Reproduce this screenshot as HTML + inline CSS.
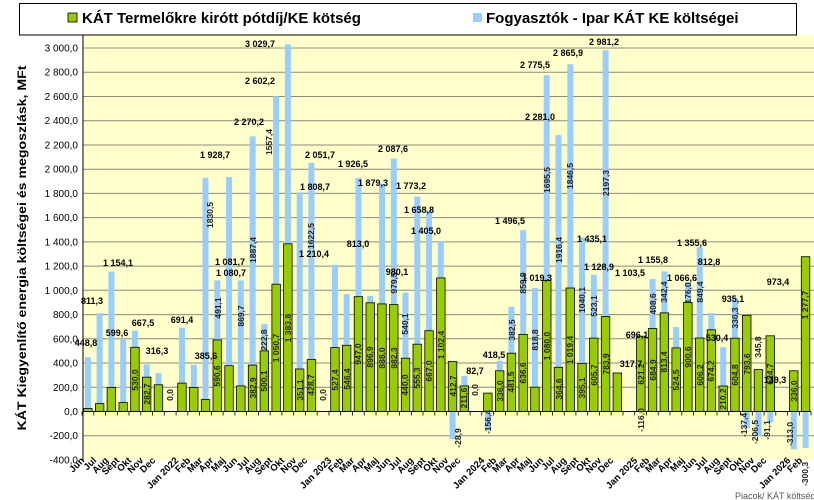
<!DOCTYPE html>
<html><head><meta charset="utf-8"><style>
html,body{margin:0;padding:0;background:#fff;}
svg{display:block;font-family:"Liberation Sans",sans-serif;}
.t{font-size:9px;font-weight:bold;text-anchor:middle;fill:#000;}
.r{font-size:8.5px;font-weight:bold;text-anchor:middle;fill:#222;}
.yl{font-size:10px;text-anchor:end;fill:#000;}
.xl{font-size:9.5px;font-weight:bold;text-anchor:end;fill:#000;}
.g{fill:#99CC00;stroke:#000;stroke-width:0.8;}
.b{fill:#99CCFF;}
</style></head><body>
<svg width="814" height="500" viewBox="0 0 814 500">
<rect x="83" y="35" width="731" height="425" fill="#FFFFCC"/>
<g stroke="#8c8c7a" stroke-width="1">
<line x1="83" x2="814" y1="48" y2="48"/><line x1="83" x2="814" y1="72.2" y2="72.2"/><line x1="83" x2="814" y1="96.5" y2="96.5"/><line x1="83" x2="814" y1="120.7" y2="120.7"/><line x1="83" x2="814" y1="145" y2="145"/><line x1="83" x2="814" y1="169.2" y2="169.2"/><line x1="83" x2="814" y1="193.4" y2="193.4"/><line x1="83" x2="814" y1="217.6" y2="217.6"/><line x1="83" x2="814" y1="241.9" y2="241.9"/><line x1="83" x2="814" y1="266.1" y2="266.1"/><line x1="83" x2="814" y1="290.3" y2="290.3"/><line x1="83" x2="814" y1="314.6" y2="314.6"/><line x1="83" x2="814" y1="338.8" y2="338.8"/><line x1="83" x2="814" y1="363" y2="363"/><line x1="83" x2="814" y1="387.3" y2="387.3"/><line x1="83" x2="814" y1="435.7" y2="435.7"/>
</g>
<g class="yl">
<text x="78" y="51.5">3 000,0</text><text x="78" y="75.7">2 800,0</text><text x="78" y="100">2 600,0</text><text x="78" y="124.2">2 400,0</text><text x="78" y="148.5">2 200,0</text><text x="78" y="172.7">2 000,0</text><text x="78" y="196.9">1 800,0</text><text x="78" y="221.1">1 600,0</text><text x="78" y="245.4">1 400,0</text><text x="78" y="269.6">1 200,0</text><text x="78" y="293.8">1 000,0</text><text x="78" y="318.1">800,0</text><text x="78" y="342.3">600,0</text><text x="78" y="366.5">400,0</text><text x="78" y="390.8">200,0</text><text x="78" y="415">0,0</text><text x="78" y="439.2">-200,0</text><text x="78" y="463.5">-400,0</text>
</g>
<!-- blue bars -->
<g class="b">
<rect x="84.9" y="357.1" width="6" height="54.4"/><rect x="96.6" y="313.2" width="6" height="98.3"/><rect x="108.4" y="271.6" width="6" height="139.9"/><rect x="120.2" y="338.8" width="6" height="72.7"/><rect x="131.9" y="330.6" width="6" height="80.9"/><rect x="143.7" y="364.5" width="6" height="47"/><rect x="155.5" y="373.2" width="6" height="38.3"/>
<rect x="179" y="327.7" width="6" height="83.8"/><rect x="190.8" y="364.8" width="6" height="46.7"/><rect x="202.5" y="177.8" width="6" height="233.7"/><rect x="214.3" y="280.4" width="6" height="131.1"/><rect x="226.1" y="177" width="6" height="234.5"/><rect x="237.8" y="280.5" width="6" height="131"/><rect x="249.6" y="136.4" width="6" height="275.1"/><rect x="261.4" y="323.9" width="6" height="87.6"/><rect x="273.1" y="96.2" width="6" height="315.3"/><rect x="284.9" y="44.4" width="6" height="367.1"/><rect x="296.7" y="192.3" width="6" height="219.2"/><rect x="308.4" y="162.9" width="6" height="248.6"/>
<rect x="331.9" y="264.8" width="6" height="146.7"/><rect x="343.7" y="294" width="6" height="117.5"/><rect x="355.5" y="178" width="6" height="233.5"/><rect x="367.2" y="295.8" width="6" height="115.7"/><rect x="379" y="183.8" width="6" height="227.7"/><rect x="390.8" y="158.5" width="6" height="253"/><rect x="402.5" y="292.7" width="6" height="118.8"/><rect x="414.3" y="196.6" width="6" height="214.9"/><rect x="426.1" y="210.5" width="6" height="201"/><rect x="437.8" y="241.2" width="6" height="170.3"/><rect x="449.6" y="411.5" width="6" height="27.6"/><rect x="461.4" y="375.9" width="6" height="35.6"/>
<rect x="484.9" y="411.5" width="6" height="19"/><rect x="496.7" y="360.8" width="6" height="50.7"/><rect x="508.4" y="306.8" width="6" height="104.7"/><rect x="520.2" y="230.2" width="6" height="181.3"/><rect x="532" y="288" width="6" height="123.5"/><rect x="543.7" y="75.2" width="6" height="336.3"/><rect x="555.5" y="135.1" width="6" height="276.4"/><rect x="567.3" y="64.2" width="6" height="347.3"/><rect x="579" y="237.6" width="6" height="173.9"/><rect x="590.8" y="274.7" width="6" height="136.8"/><rect x="602.6" y="50.2" width="6" height="361.3"/>
<rect x="649.6" y="279" width="6" height="132.5"/><rect x="661.4" y="271.4" width="6" height="140.1"/><rect x="673.1" y="327.1" width="6" height="84.4"/><rect x="684.9" y="282.2" width="6" height="129.3"/><rect x="696.7" y="247.2" width="6" height="164.3"/><rect x="708.4" y="313" width="6" height="98.5"/><rect x="720.2" y="347.2" width="6" height="64.3"/><rect x="732" y="298.2" width="6" height="113.3"/><rect x="743.7" y="411.5" width="6" height="16.6"/><rect x="755.5" y="411.5" width="6" height="25"/><rect x="767.3" y="411.5" width="6" height="11"/>
<rect x="790.8" y="411.5" width="6" height="37.9"/><rect x="802.6" y="411.5" width="6" height="36.4"/>
</g>
<!-- green bars -->
<g class="g">
<rect x="83.6" y="408.5" width="8.5" height="3"/><rect x="95.4" y="403.6" width="8.5" height="7.9"/><rect x="107.1" y="387.4" width="8.5" height="24.1"/><rect x="118.9" y="402.6" width="8.5" height="8.9"/><rect x="130.7" y="347.3" width="8.5" height="64.2"/><rect x="142.4" y="377.2" width="8.5" height="34.3"/><rect x="154.2" y="384.8" width="8.5" height="26.7"/>
<rect x="177.7" y="383.1" width="8.5" height="28.4"/><rect x="189.5" y="387.5" width="8.5" height="24"/><rect x="201.3" y="399.6" width="8.5" height="11.9"/><rect x="213" y="339.9" width="8.5" height="71.6"/><rect x="224.8" y="365.7" width="8.5" height="45.8"/><rect x="236.6" y="385.9" width="8.5" height="25.6"/><rect x="248.3" y="365.1" width="8.5" height="46.4"/><rect x="260.1" y="350.9" width="8.5" height="60.6"/><rect x="271.9" y="284.2" width="8.5" height="127.3"/><rect x="283.6" y="243.8" width="8.5" height="167.7"/><rect x="295.4" y="369" width="8.5" height="42.5"/><rect x="307.2" y="359.6" width="8.5" height="51.9"/>
<rect x="330.7" y="347.6" width="8.5" height="63.9"/><rect x="342.4" y="345.3" width="8.5" height="66.2"/><rect x="354.2" y="296.7" width="8.5" height="114.8"/><rect x="366" y="302.8" width="8.5" height="108.7"/><rect x="377.7" y="303.9" width="8.5" height="107.6"/><rect x="389.5" y="304.6" width="8.5" height="106.9"/><rect x="401.3" y="358.2" width="8.5" height="53.3"/><rect x="413" y="344.2" width="8.5" height="67.3"/><rect x="424.8" y="330.7" width="8.5" height="80.8"/><rect x="436.6" y="277.9" width="8.5" height="133.6"/><rect x="448.3" y="361.5" width="8.5" height="50"/><rect x="460.1" y="385.9" width="8.5" height="25.6"/>
<rect x="483.6" y="393.1" width="8.5" height="18.4"/><rect x="495.4" y="370.8" width="8.5" height="40.7"/><rect x="507.2" y="353.2" width="8.5" height="58.3"/><rect x="518.9" y="334.4" width="8.5" height="77.1"/><rect x="530.7" y="387.2" width="8.5" height="24.3"/><rect x="542.5" y="280.6" width="8.5" height="130.9"/><rect x="554.2" y="367.3" width="8.5" height="44.2"/><rect x="566" y="288" width="8.5" height="123.5"/><rect x="577.8" y="363.6" width="8.5" height="47.9"/><rect x="589.5" y="338.1" width="8.5" height="73.4"/><rect x="601.3" y="316.5" width="8.5" height="95"/><rect x="613.1" y="373" width="8.5" height="38.5"/>
<rect x="636.6" y="336.2" width="8.5" height="75.3"/><rect x="648.3" y="328.5" width="8.5" height="83"/><rect x="660.1" y="312.9" width="8.5" height="98.6"/><rect x="671.9" y="347.9" width="8.5" height="63.6"/><rect x="683.6" y="302.4" width="8.5" height="109.1"/><rect x="695.4" y="338" width="8.5" height="73.5"/><rect x="707.2" y="329.8" width="8.5" height="81.7"/><rect x="718.9" y="386" width="8.5" height="25.5"/><rect x="730.7" y="338.2" width="8.5" height="73.3"/><rect x="742.5" y="315.3" width="8.5" height="96.2"/><rect x="754.2" y="369.6" width="8.5" height="41.9"/><rect x="766" y="335.8" width="8.5" height="75.7"/>
<rect x="789.5" y="370.8" width="8.5" height="40.7"/><rect x="801.3" y="256.7" width="8.5" height="154.8"/>
</g>
<!-- axes -->
<line x1="83" y1="35" x2="83" y2="460" stroke="#000" stroke-width="1"/>
<line x1="83" y1="411.5" x2="811" y1="411.5" y2="411.5" stroke="#000" stroke-width="1"/>
<path d="M82 411.5v4M93.8 411.5v4M105.5 411.5v4M117.3 411.5v4M129 411.5v4M140.8 411.5v4M152.6 411.5v4M164.3 411.5v4M176.1 411.5v4M187.8 411.5v4M199.6 411.5v4M211.4 411.5v4M223.1 411.5v4M234.9 411.5v4M246.6 411.5v4M258.4 411.5v4M270.2 411.5v4M281.9 411.5v4M293.7 411.5v4M305.4 411.5v4M317.2 411.5v4M329 411.5v4M340.7 411.5v4M352.5 411.5v4M364.2 411.5v4M376 411.5v4M387.8 411.5v4M399.5 411.5v4M411.3 411.5v4M423 411.5v4M434.8 411.5v4M446.6 411.5v4M458.3 411.5v4M470.1 411.5v4M481.8 411.5v4M493.6 411.5v4M505.4 411.5v4M517.1 411.5v4M528.9 411.5v4M540.6 411.5v4M552.4 411.5v4M564.2 411.5v4M575.9 411.5v4M587.7 411.5v4M599.4 411.5v4M611.2 411.5v4M623 411.5v4M634.7 411.5v4M646.5 411.5v4M658.2 411.5v4M670 411.5v4M681.8 411.5v4M693.5 411.5v4M705.3 411.5v4M717 411.5v4M728.8 411.5v4M740.6 411.5v4M752.3 411.5v4M764.1 411.5v4M775.8 411.5v4M787.6 411.5v4M799.4 411.5v4M811 411.5v4" stroke="#000" stroke-width="0.8"/>
<!-- rotated inner labels -->
<g class="r">
<text transform="translate(135,380) rotate(-90)" dy="3">530,0</text>
<text transform="translate(147,394) rotate(-90)" dy="3">282,7</text>
<text transform="translate(217,376) rotate(-90)" dy="3">590,6</text>
<text transform="translate(210,215) rotate(-90)" dy="3">1830,5</text>
<text transform="translate(218,308) rotate(-90)" dy="3">491,1</text>
<text transform="translate(241,316) rotate(-90)" dy="3">869,7</text>
<text transform="translate(253,388) rotate(-90)" dy="3">382,9</text>
<text transform="translate(253,250) rotate(-90)" dy="3">1887,4</text>
<text transform="translate(264,381) rotate(-90)" dy="3">500,1</text>
<text transform="translate(264,340) rotate(-90)" dy="3">222,8</text>
<text transform="translate(276,348) rotate(-90)" dy="3">1 050,7</text>
<text transform="translate(269,142) rotate(-90)" dy="3">1557,4</text>
<text transform="translate(288,328) rotate(-90)" dy="3">1 383,8</text>
<text transform="translate(300,390) rotate(-90)" dy="3">351,1</text>
<text transform="translate(311,385) rotate(-90)" dy="3">428,7</text>
<text transform="translate(311,236) rotate(-90)" dy="3">1622,5</text>
<text transform="translate(335,380) rotate(-90)" dy="3">527,4</text>
<text transform="translate(347,379) rotate(-90)" dy="3">546,4</text>
<text transform="translate(358,354) rotate(-90)" dy="3">947,0</text>
<text transform="translate(370,357) rotate(-90)" dy="3">896,9</text>
<text transform="translate(382,358) rotate(-90)" dy="3">888,0</text>
<text transform="translate(394,358) rotate(-90)" dy="3">882,3</text>
<text transform="translate(394,283) rotate(-90)" dy="3">979,5</text>
<text transform="translate(405,385) rotate(-90)" dy="3">440,0</text>
<text transform="translate(405,324) rotate(-90)" dy="3">540,1</text>
<text transform="translate(417,378) rotate(-90)" dy="3">555,3</text>
<text transform="translate(429,371) rotate(-90)" dy="3">667,0</text>
<text transform="translate(441,345) rotate(-90)" dy="3">1 102,4</text>
<text transform="translate(453,386) rotate(-90)" dy="3">412,7</text>
<text transform="translate(464,398) rotate(-90)" dy="3">211,6</text>
<text transform="translate(500,391) rotate(-90)" dy="3">336,0</text>
<text transform="translate(511,382) rotate(-90)" dy="3">481,5</text>
<text transform="translate(512,330) rotate(-90)" dy="3">382,5</text>
<text transform="translate(523,373) rotate(-90)" dy="3">636,6</text>
<text transform="translate(523,283) rotate(-90)" dy="3">859,9</text>
<text transform="translate(535,340) rotate(-90)" dy="3">818,8</text>
<text transform="translate(547,346) rotate(-90)" dy="3">1 080,0</text>
<text transform="translate(547,180) rotate(-90)" dy="3">1695,5</text>
<text transform="translate(559,389) rotate(-90)" dy="3">364,6</text>
<text transform="translate(559,250) rotate(-90)" dy="3">1916,4</text>
<text transform="translate(570,350) rotate(-90)" dy="3">1 019,4</text>
<text transform="translate(570,176) rotate(-90)" dy="3">1846,5</text>
<text transform="translate(582,388) rotate(-90)" dy="3">395,1</text>
<text transform="translate(582,300) rotate(-90)" dy="3">1040,1</text>
<text transform="translate(594,375) rotate(-90)" dy="3">605,7</text>
<text transform="translate(594,306) rotate(-90)" dy="3">523,1</text>
<text transform="translate(606,364) rotate(-90)" dy="3">783,9</text>
<text transform="translate(606,183) rotate(-90)" dy="3">2197,3</text>
<text transform="translate(641,374) rotate(-90)" dy="3">621,2</text>
<text transform="translate(653,370) rotate(-90)" dy="3">684,9</text>
<text transform="translate(653,304) rotate(-90)" dy="3">408,6</text>
<text transform="translate(664,362) rotate(-90)" dy="3">813,4</text>
<text transform="translate(664,292) rotate(-90)" dy="3">342,4</text>
<text transform="translate(676,380) rotate(-90)" dy="3">524,5</text>
<text transform="translate(688,357) rotate(-90)" dy="3">900,6</text>
<text transform="translate(688,293) rotate(-90)" dy="3">176,0</text>
<text transform="translate(700,375) rotate(-90)" dy="3">606,2</text>
<text transform="translate(700,292) rotate(-90)" dy="3">849,4</text>
<text transform="translate(711,371) rotate(-90)" dy="3">674,2</text>
<text transform="translate(723,399) rotate(-90)" dy="3">210,2</text>
<text transform="translate(735,375) rotate(-90)" dy="3">604,8</text>
<text transform="translate(735,318) rotate(-90)" dy="3">330,3</text>
<text transform="translate(747,364) rotate(-90)" dy="3">793,6</text>
<text transform="translate(758,347) rotate(-90)" dy="3">345,8</text>
<text transform="translate(770,374) rotate(-90)" dy="3">624,7</text>
<text transform="translate(794,391) rotate(-90)" dy="3">336,0</text>
<text transform="translate(805,305) rotate(-90)" dy="3">1 277,7</text>
<text transform="translate(170,395) rotate(-90)" dy="3">0,0</text>
<text transform="translate(323,395) rotate(-90)" dy="3">0,0</text>
<text transform="translate(475,390) rotate(-90)" dy="3">0,0</text>
<text transform="translate(458,438) rotate(-90)" dy="3">-28,9</text>
<text transform="translate(488,422) rotate(-90)" dy="3">-156,4</text>
<text transform="translate(641,420) rotate(-90)" dy="3">-116,0</text>
<text transform="translate(744,425) rotate(-90)" dy="3">-137,4</text>
<text transform="translate(755,432) rotate(-90)" dy="3">-206,5</text>
<text transform="translate(767,430) rotate(-90)" dy="3">-91,1</text>
<text transform="translate(790,434) rotate(-90)" dy="3">-313,0</text>
<text transform="translate(805,474) rotate(-90)" dy="3">-300,3</text>
</g>
<!-- total labels -->
<g class="t">
<text x="86" y="346">448,8</text><text x="92" y="304">811,3</text><text x="118" y="266">1 154,1</text><text x="117" y="336">599,6</text><text x="143" y="326">667,5</text><text x="157" y="354">316,3</text><text x="182" y="323">691,4</text><text x="206" y="359">385,6</text><text x="215" y="158">1 928,7</text><text x="230" y="265">1 081,7</text><text x="231" y="276">1 080,7</text><text x="249" y="125">2 270,2</text><text x="260" y="84">2 602,2</text><text x="260" y="47">3 029,7</text><text x="315" y="190">1 808,7</text><text x="320" y="158">2 051,7</text><text x="314" y="257">1 210,4</text><text x="353" y="167">1 926,5</text><text x="373" y="186">1 879,3</text><text x="393" y="152">2 087,6</text><text x="411" y="189">1 773,2</text><text x="419" y="213">1 658,8</text><text x="426" y="234">1 405,0</text><text x="397" y="275">980,1</text><text x="358" y="247">813,0</text><text x="475" y="374">82,7</text><text x="494" y="358">418,5</text><text x="510" y="224">1 496,5</text><text x="537" y="281">1 019,3</text><text x="535" y="68">2 775,5</text><text x="568" y="56">2 865,9</text><text x="540" y="120">2 281,0</text><text x="592" y="242">1 435,1</text><text x="599" y="270">1 128,9</text><text x="604" y="45">2 981,2</text><text x="637" y="338">696,1</text><text x="631" y="367">317,7</text><text x="630" y="276">1 103,5</text><text x="653" y="263">1 155,8</text><text x="682" y="281">1 066,6</text><text x="692" y="246">1 355,6</text><text x="709" y="265">812,8</text><text x="733" y="302">935,1</text><text x="717" y="341">530,4</text><text x="775" y="383">139,3</text><text x="778" y="285">973,4</text>
</g>
<!-- x labels -->
<g class="xl">
<text transform="translate(85,461) rotate(-45)">Jun</text><text transform="translate(97,461) rotate(-45)">Jul</text><text transform="translate(109,461) rotate(-45)">Aug</text><text transform="translate(120,461) rotate(-45)">Sept</text><text transform="translate(132,461) rotate(-45)">Okt</text><text transform="translate(144,461) rotate(-45)">Nov</text><text transform="translate(156,461) rotate(-45)">Dec</text>
<text transform="translate(179,461) rotate(-45)">Jan 2022</text><text transform="translate(191,461) rotate(-45)">Feb</text><text transform="translate(203,461) rotate(-45)">Mar</text><text transform="translate(214,461) rotate(-45)">Apr</text><text transform="translate(226,461) rotate(-45)">Maj</text><text transform="translate(238,461) rotate(-45)">Jun</text><text transform="translate(250,461) rotate(-45)">Jul</text><text transform="translate(261,461) rotate(-45)">Aug</text><text transform="translate(273,461) rotate(-45)">Sept</text><text transform="translate(285,461) rotate(-45)">Okt</text><text transform="translate(297,461) rotate(-45)">Nov</text><text transform="translate(308,461) rotate(-45)">Dec</text>
<text transform="translate(332,461) rotate(-45)">Jan 2023</text><text transform="translate(344,461) rotate(-45)">Feb</text><text transform="translate(355,461) rotate(-45)">Mar</text><text transform="translate(367,461) rotate(-45)">Apr</text><text transform="translate(379,461) rotate(-45)">Maj</text><text transform="translate(391,461) rotate(-45)">Jun</text><text transform="translate(402,461) rotate(-45)">Jul</text><text transform="translate(414,461) rotate(-45)">Aug</text><text transform="translate(426,461) rotate(-45)">Sept</text><text transform="translate(438,461) rotate(-45)">Okt</text><text transform="translate(449,461) rotate(-45)">Nov</text><text transform="translate(461,461) rotate(-45)">Dec</text>
<text transform="translate(485,461) rotate(-45)">Jan 2024</text><text transform="translate(497,461) rotate(-45)">Feb</text><text transform="translate(508,461) rotate(-45)">Mar</text><text transform="translate(520,461) rotate(-45)">Apr</text><text transform="translate(532,461) rotate(-45)">Maj</text><text transform="translate(544,461) rotate(-45)">Jun</text><text transform="translate(555,461) rotate(-45)">Jul</text><text transform="translate(567,461) rotate(-45)">Aug</text><text transform="translate(579,461) rotate(-45)">Sept</text><text transform="translate(591,461) rotate(-45)">Okt</text><text transform="translate(602,461) rotate(-45)">Nov</text><text transform="translate(614,461) rotate(-45)">Dec</text>
<text transform="translate(638,461) rotate(-45)">Jan 2025</text><text transform="translate(650,461) rotate(-45)">Feb</text><text transform="translate(661,461) rotate(-45)">Mar</text><text transform="translate(673,461) rotate(-45)">Apr</text><text transform="translate(685,461) rotate(-45)">Maj</text><text transform="translate(697,461) rotate(-45)">Jun</text><text transform="translate(708,461) rotate(-45)">Jul</text><text transform="translate(720,461) rotate(-45)">Aug</text><text transform="translate(732,461) rotate(-45)">Sept</text><text transform="translate(744,461) rotate(-45)">Okt</text><text transform="translate(755,461) rotate(-45)">Nov</text><text transform="translate(767,461) rotate(-45)">Dec</text>
<text transform="translate(791,461) rotate(-45)">Jan 2026</text><text transform="translate(803,461) rotate(-45)">Feb</text>
</g>
<!-- y title -->
<text transform="translate(26,248) rotate(-90)" text-anchor="middle" font-size="12" font-weight="bold" textLength="365" lengthAdjust="spacingAndGlyphs">KÁT Kiegyenlítő energia költségei és megoszlásk, MFt</text>
<!-- legend -->
<rect x="19.5" y="3.5" width="777" height="31.5" fill="#fff" stroke="#000" stroke-width="1"/>
<rect x="68" y="13" width="9" height="9" class="g"/>
<text x="82" y="23" font-size="15" font-weight="bold">KÁT Termelőkre kirótt pótdíj/KE kötség</text>
<rect x="473" y="13" width="9" height="9" fill="#99CCFF"/>
<text x="486" y="23" font-size="15" font-weight="bold">Fogyasztók - Ipar KÁT KE költségei</text>
<text x="735" y="499" font-size="9" fill="#555">Piacok/ KÁT költség</text>
</svg>
</body></html>
